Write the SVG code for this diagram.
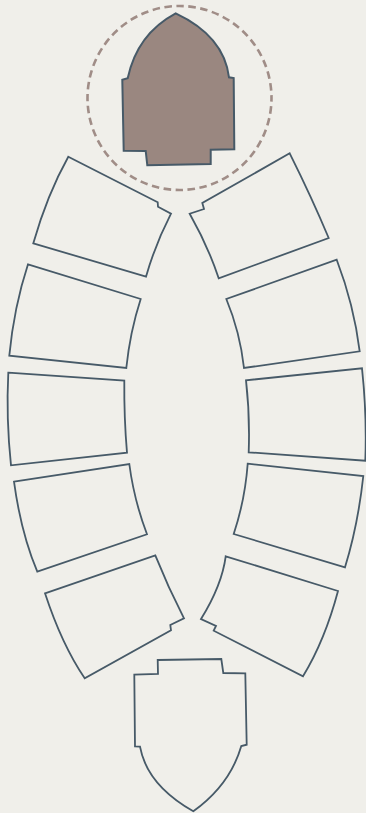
<svg xmlns="http://www.w3.org/2000/svg" width="366" height="813" viewBox="0 0 366 813">
<style>
.p{fill:#f0efea;stroke:#475a68;stroke-width:1.8;stroke-linejoin:miter}
.s{fill:#9a8780;stroke-width:2}
.c{fill:none;stroke:#a08d87;stroke-width:2.6;stroke-dasharray:7.5 4.54;stroke-dashoffset:3.75}
</style>
<rect width="366" height="813" fill="#f0efea"/>
<g id="apse-circle"><circle class="c" cx="179.5" cy="98" r="92"/></g>
<g id="top"><path class="p s" d="M175.7 13.3Q224 36 229 77.3L233.7 78L234.3 149.3L210.7 149.7L210.7 164L147.3 165.3L145.7 151L123.7 150.7L122.3 79.7L127.7 78.3Q137 34 175.7 13.3Z"/></g>
<g id="left-1"><path class="p" d="M68.3 156.7L157.7 202.3L158 206.7L171 213.7Q155 245 146 276.7L33.3 243.3Q47 195 68.3 156.7Z"/></g>
<g id="left-2"><path class="p" d="M28 264.3L140.7 299Q130 332 126.3 368L9.3 355.7Q14 307 28 264.3Z"/></g>
<g id="left-3"><path class="p" d="M8.3 372.7L124.3 380.7Q124 418 127 452.7L11 465.3Q6 418 8.3 372.7Z"/></g>
<g id="left-4"><path class="p" d="M14 481.7L129.3 464Q134 500 147 534.3L37.3 571.7Q21 533 14 481.7Z"/></g>
<g id="left-5"><path class="p" d="M45 593.3L155.3 555.3Q168 587 184 618.3L170.3 625L171 630.3L84.7 678.3Q62 645 45 593.3Z"/></g>
<g id="right-1"><path class="p" d="M289.7 153.3Q312 198 328.7 238L218.7 278.3Q208 246 189.7 213.7L204 209L202.3 203Z"/></g>
<g id="right-2"><path class="p" d="M336.7 259.7Q354 305 359.7 351.3L244 368Q240 332 226.3 299Z"/></g>
<g id="right-3"><path class="p" d="M362 368.3Q367 415 365.3 460.7L248.7 452.3Q250 415 246 380.3Z"/></g>
<g id="right-4"><path class="p" d="M247.7 463.7L363.3 476Q358 525 345 567.3L233.7 534Q245 500 247.7 463.7Z"/></g>
<g id="right-5"><path class="p" d="M225.7 556.3L338 591Q325 640 303 676.3L213.7 630.7L216 626L201 619Q222 585 225.7 556.3Z"/></g>
<g id="bottom"><path class="p" d="M157.7 660L221.3 659L223.3 673L245.3 673.3L246.7 744.7L241.3 746Q230 785 193.3 811.3Q147 785 140 746.7L135 746.3L134.3 674.7L158 674Z"/></g>
<g id="connectors"/>
</svg>
